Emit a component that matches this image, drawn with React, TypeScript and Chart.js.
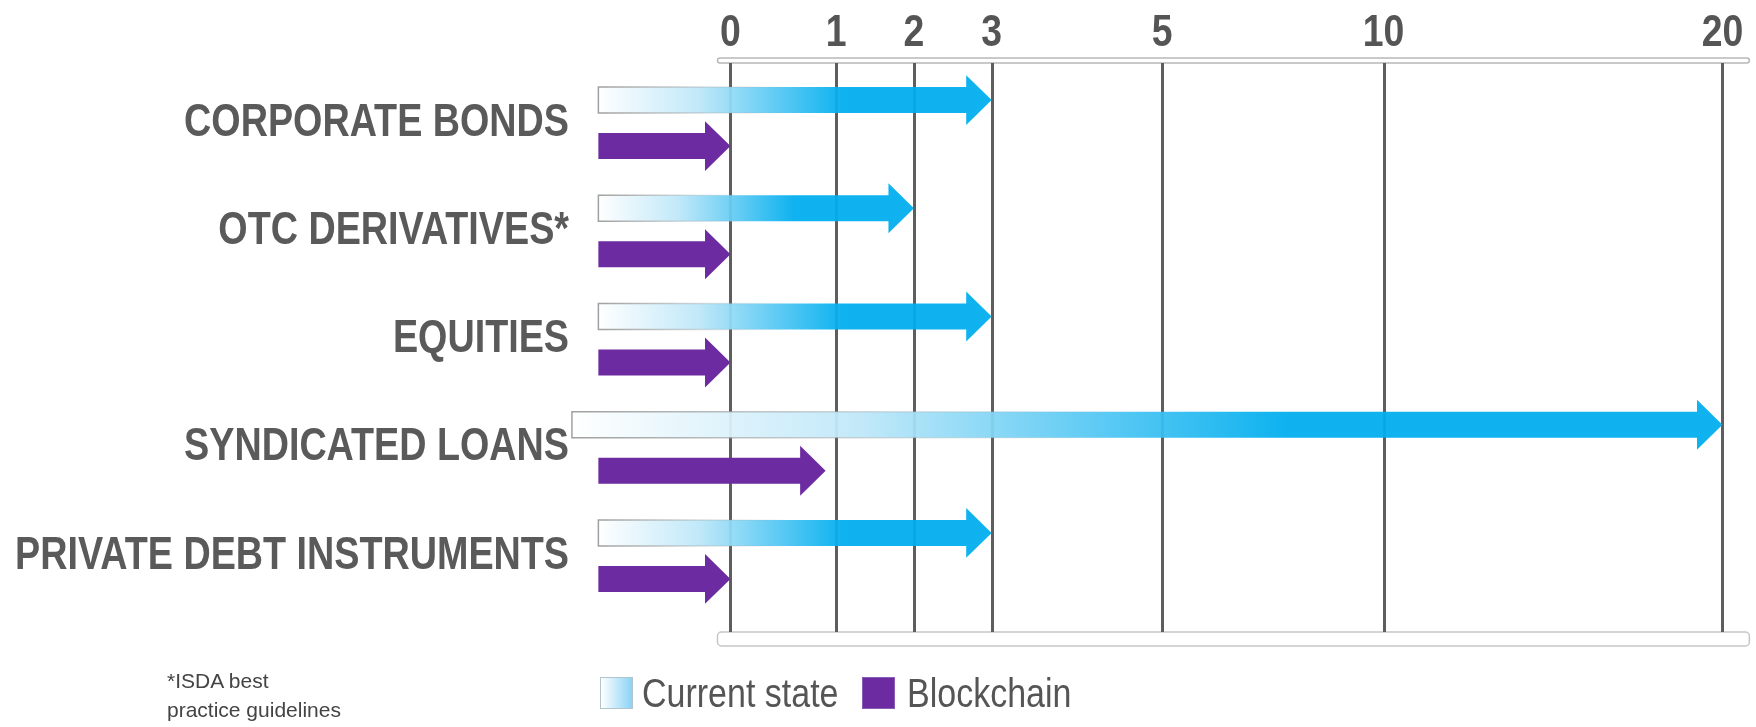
import React, { useEffect, useRef } from 'react';
import { Chart, registerables, LinearScale, CategoryScale } from 'chart.js';

// ---------------- data ----------------
const CATEGORIES = [
  'CORPORATE BONDS',
  'OTC DERIVATIVES*',
  'EQUITIES',
  'SYNDICATED LOANS',
  'PRIVATE DEBT INSTRUMENTS',
];
const SERIES_NAMES = ['Current state', 'Blockchain'];
const CURRENT_STATE = [3, 2, 3, 20, 3];
const BLOCKCHAIN = [0, 0, 0, 0.9, 0];
// where each arrow's tail begins (left of zero, as in the original graphic)
const CURRENT_TAIL = [-1.25, -1.25, -1.25, -1.5, -1.25];
const BLOCKCHAIN_TAIL = [-1.25, -1.25, -1.25, -1.25, -1.25];
const X_TICKS = [0, 1, 2, 3, 5, 10, 20];
const FOOTNOTE = ['*ISDA best', 'practice guidelines'];

// ---------------- styles ----------------
const FONT = '"Liberation Sans", Arial, Helvetica, sans-serif';
const CYAN = '#00aeef';
const PURPLE = '#6c2ba0';

// draw text horizontally condensed (the original uses a narrow typeface)
function withSqueeze(ctx: any, sx: number, fn: () => void) {
  if (!sx || sx === 1) {
    fn();
    return;
  }
  const proto = Object.getPrototypeOf(ctx);
  const orig = proto.fillText;
  ctx.fillText = function (text: string, x: number, y: number, maxWidth?: number) {
    this.save();
    this.translate(x, y);
    this.scale(sx, 1);
    if (maxWidth === undefined || maxWidth === null) orig.call(this, text, 0, 0);
    else orig.call(this, text, 0, 0, maxWidth / sx);
    this.restore();
  };
  try {
    fn();
  } finally {
    delete ctx.fillText;
  }
}

// Axis with uneven (hand-placed) tick spacing, piecewise linear between anchors
class AnchoredScale extends LinearScale {
  static id = 'anchored';
  static defaults = {};
  _frac(value: number): number {
    const vals: number[] = (this.options as any).anchorValues;
    const fr: number[] = (this.options as any).anchorFractions;
    const n = vals.length;
    let i = 0;
    if (value <= vals[0]) i = 0;
    else if (value >= vals[n - 1]) i = n - 2;
    else {
      while (i < n - 2 && value > vals[i + 1]) i++;
    }
    const t = (value - vals[i]) / (vals[i + 1] - vals[i]);
    return fr[i] + t * (fr[i + 1] - fr[i]);
  }
  getPixelForValue(value: number) {
    if (value === null || value === undefined || isNaN(value as any)) return NaN;
    return this.getPixelForDecimal(this._frac(value));
  }
  getValueForPixel(pixel: number) {
    const d = this.getDecimalForPixel(pixel);
    const vals: number[] = (this.options as any).anchorValues;
    const fr: number[] = (this.options as any).anchorFractions;
    const n = vals.length;
    let i = 0;
    if (d <= fr[0]) i = 0;
    else if (d >= fr[n - 1]) i = n - 2;
    else {
      while (i < n - 2 && d > fr[i + 1]) i++;
    }
    const t = (d - fr[i]) / (fr[i + 1] - fr[i]);
    return vals[i] + t * (vals[i + 1] - vals[i]);
  }
  drawLabels(chartArea: any) {
    withSqueeze(this.ctx, (this.options as any).squeeze, () => super.drawLabels(chartArea));
  }
}

class NarrowCategoryScale extends CategoryScale {
  static id = 'narrowCategory';
  static defaults = {};
  drawLabels(chartArea: any) {
    withSqueeze(this.ctx, (this.options as any).squeeze, () => super.drawLabels(chartArea));
  }
}

Chart.register(...registerables, AnchoredScale, NarrowCategoryScale);

function roundRect(ctx: CanvasRenderingContext2D, x: number, y: number, w: number, h: number, r: number) {
  ctx.beginPath();
  ctx.moveTo(x + r, y);
  ctx.lineTo(x + w - r, y);
  ctx.arcTo(x + w, y, x + w, y + r, r);
  ctx.lineTo(x + w, y + h - r);
  ctx.arcTo(x + w, y + h, x + w - r, y + h, r);
  ctx.lineTo(x + r, y + h);
  ctx.arcTo(x, y + h, x, y + h - r, r);
  ctx.lineTo(x, y + r);
  ctx.arcTo(x, y, x + r, y, r);
  ctx.closePath();
}

const framePlugin = {
  id: 'frameAndGrid',
  beforeDatasetsDraw(chart: any) {
    const { ctx, chartArea } = chart;
    const x = chart.scales.x;
    const left = x.getPixelForValue(0) - 13;
    const right = chartArea.right;
    ctx.save();
    // top rail
    roundRect(ctx, left, chartArea.top - 11, right - left, 5, 2.5);
    ctx.fillStyle = '#ffffff';
    ctx.fill();
    ctx.lineWidth = 1.5;
    ctx.strokeStyle = '#b8b8b8';
    ctx.stroke();
    // bottom rail
    roundRect(ctx, left, chartArea.bottom + 22, right - left, 14, 4);
    ctx.fillStyle = '#ffffff';
    ctx.fill();
    ctx.lineWidth = 1.5;
    ctx.strokeStyle = '#c6c6c6';
    ctx.stroke();
    // vertical grid lines at each tick
    ctx.lineWidth = 3;
    ctx.strokeStyle = '#5e5e5e';
    x.ticks.forEach((t: any) => {
      const px = Math.round(x.getPixelForValue(t.value)) + 0.5;
      ctx.beginPath();
      ctx.moveTo(px, chartArea.top - 6);
      ctx.lineTo(px, chartArea.bottom + 22);
      ctx.stroke();
    });
    ctx.restore();
  },
  afterDatasetsDraw(chart: any) {
    const { ctx } = chart;
    const xs = chart.scales.x;
    chart.data.datasets.forEach((ds: any, di: number) => {
      const meta = chart.getDatasetMeta(di);
      if (meta.hidden) return;
      meta.data.forEach((bar: any, idx: number) => {
        const raw = ds.data[idx] as number[];
        const { y, height } = bar.getProps(['y', 'height'], true);
        const tail = xs.getPixelForValue(raw[0]);
        const tip = xs.getPixelForValue(raw[1]);
        const h = height;
        const headLen = h * 0.98;
        const headHalf = h * 0.96;
        const neck = tip - headLen;
        ctx.save();
        ctx.beginPath();
        ctx.moveTo(tail, y - h / 2);
        ctx.lineTo(neck, y - h / 2);
        ctx.lineTo(neck, y - headHalf);
        ctx.lineTo(tip, y);
        ctx.lineTo(neck, y + headHalf);
        ctx.lineTo(neck, y + h / 2);
        ctx.lineTo(tail, y + h / 2);
        ctx.closePath();
        if (ds.arrowGradient) {
          const g = ctx.createLinearGradient(tail, 0, tip, 0);
          g.addColorStop(0, '#ffffff');
          g.addColorStop(0.25, '#bfe8f9');
          g.addColorStop(0.62, ds.arrowColor);
          g.addColorStop(1, ds.arrowColor);
          ctx.globalAlpha = 0.94;
          ctx.fillStyle = g;
          ctx.fill();
          ctx.globalAlpha = 1;
          const sg = ctx.createLinearGradient(tail, 0, tip, 0);
          sg.addColorStop(0, 'rgba(150,150,150,0.9)');
          sg.addColorStop(0.3, 'rgba(150,150,150,0.25)');
          sg.addColorStop(0.5, 'rgba(150,150,150,0)');
          ctx.lineWidth = 1.5;
          ctx.strokeStyle = sg;
          ctx.stroke();
        } else {
          ctx.fillStyle = ds.arrowColor;
          ctx.fill();
        }
        ctx.restore();
      });
    });
  },
};

export default function App() {
  const canvasRef = useRef<HTMLCanvasElement | null>(null);

  useEffect(() => {
    document.body.style.margin = '0';
    const canvas = canvasRef.current;
    if (!canvas) return;
    const chart = new Chart(canvas, {
      type: 'bar',
      data: {
        labels: CATEGORIES,
        datasets: [
          {
            label: SERIES_NAMES[0],
            data: CURRENT_STATE.map((v, i) => [CURRENT_TAIL[i], v]),
            backgroundColor: 'rgba(0,0,0,0)',
            borderWidth: 0,
            arrowColor: CYAN,
            arrowGradient: true,
          } as any,
          {
            label: SERIES_NAMES[1],
            data: BLOCKCHAIN.map((v, i) => [BLOCKCHAIN_TAIL[i], v]),
            backgroundColor: 'rgba(0,0,0,0)',
            borderWidth: 0,
            arrowColor: PURPLE,
            arrowGradient: false,
          } as any,
        ],
      },
      options: {
        indexAxis: 'y',
        responsive: false,
        animation: false,
        events: [],
        layout: { padding: { top: 0, left: 0, right: 3, bottom: 117 } },
        datasets: { bar: { categoryPercentage: 0.85, barPercentage: 0.565 } },
        plugins: {
          legend: { display: false },
          tooltip: { enabled: false },
        },
        scales: {
          x: {
            type: 'anchored' as any,
            position: 'top',
            min: -1.5,
            max: 21,
            anchorValues: X_TICKS,
            anchorFractions: [0.1324, 0.2224, 0.2886, 0.3548, 0.5, 0.6885, 0.9771],
            squeeze: 0.85,
            grid: { display: false, drawTicks: false },
            border: { display: false },
            ticks: {
              autoSkip: false,
              maxRotation: 0,
              minRotation: 0,
              padding: 9,
              color: '#555555',
              font: { family: FONT, weight: 'bold', size: 44 },
              callback: (v: any) => String(v),
            },
            afterBuildTicks: (axis: any) => {
              axis.ticks = X_TICKS.map((value) => ({ value }));
            },
            afterFit: (axis: any) => {
              axis.height = 69;
            },
          } as any,
          y: {
            type: 'narrowCategory' as any,
            squeeze: 0.82,
            grid: { display: false, drawTicks: false },
            border: { display: false },
            ticks: {
              padding: 6,
              color: '#5a5a5a',
              font: { family: FONT, weight: 'bold', size: 46 },
            },
            afterFit: (axis: any) => {
              axis.width = 575;
            },
          } as any,
        },
      } as any,
      plugins: [framePlugin],
    });
    return () => chart.destroy();
  }, []);

  const legendText: React.CSSProperties = {
    position: 'absolute',
    top: 673,
    fontFamily: FONT,
    fontSize: 40,
    lineHeight: '40px',
    color: '#555555',
    whiteSpace: 'nowrap',
    transform: 'scaleX(0.85)',
    transformOrigin: '0 0',
  };

  return (
    <div style={{ position: 'relative', width: 1756, height: 727, background: '#ffffff', overflow: 'hidden' }}>
      <canvas ref={canvasRef} width={1756} height={727} style={{ display: 'block' }} />
      <div
        style={{
          position: 'absolute',
          left: 600,
          top: 677,
          width: 33,
          height: 32,
          boxSizing: 'border-box',
          border: '1px solid #b4c4cc',
          background: 'linear-gradient(to right, #ffffff, #8bd3f5)',
        }}
      />
      <span style={{ ...legendText, left: 642 }}>{SERIES_NAMES[0]}</span>
      <div
        style={{
          position: 'absolute',
          left: 862,
          top: 677,
          width: 33,
          height: 32,
          boxSizing: 'border-box',
          border: '1px solid #8a5cb5',
          background: PURPLE,
        }}
      />
      <span style={{ ...legendText, left: 907 }}>{SERIES_NAMES[1]}</span>
      <div
        style={{
          position: 'absolute',
          left: 167,
          top: 666,
          fontFamily: FONT,
          fontSize: 21,
          lineHeight: '29px',
          color: '#444444',
          whiteSpace: 'nowrap',
        }}
      >
        {FOOTNOTE[0]}
        <br />
        {FOOTNOTE[1]}
      </div>
    </div>
  );
}
